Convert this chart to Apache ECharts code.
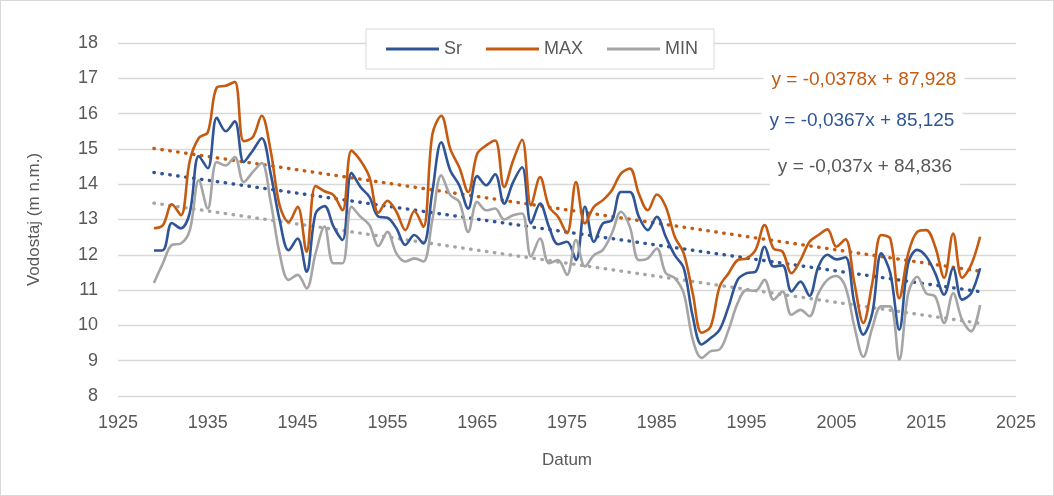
<!DOCTYPE html>
<html><head><meta charset="utf-8">
<script src="https://cdn.jsdelivr.net/npm/echarts@6/dist/echarts.min.js"></script>
<style>html,body{margin:0;padding:0;background:#fff}#c{width:1054px;height:496px;box-sizing:border-box;border:1px solid #D9D9D9}</style>
</head><body><div id="c"></div>
<script>
const years = [];
for (let y = 1929; y <= 2021; y++) years.push(y);
const sr = [12.12,12.13,12.9,12.75,13.2,14.8,14.45,15.88,15.5,15.78,14.63,14.95,15.3,14.3,12.98,12.13,12.46,11.52,13.17,13.38,12.8,12.42,14.32,13.92,13.64,13.08,13.05,12.75,12.28,12.56,12.32,13.78,
15.19,14.39,13.97,13.31,14.23,13.97,14.28,13.45,14.06,14.48,12.89,13.45,12.79,12.3,12.37,11.85,13.36,12.37,12.89,12.98,13.78,13.78,13.08,12.7,13.08,12.51,11.99,11.62,10.26,9.46,9.64,9.88,10.54,11.29,
11.48,11.52,12.23,11.67,11.7,10.96,11.24,10.84,11.67,12.0,11.87,11.93,10.63,9.74,10.35,12.04,11.48,9.88,11.76,12.14,11.95,11.48,10.87,11.62,10.73,10.91,11.62];
const mx = [12.75,12.84,13.43,13.12,14.67,15.31,15.47,16.74,16.79,16.9,15.22,15.33,15.94,14.95,13.4,12.93,13.36,12.09,13.95,13.8,13.69,13.26,14.95,14.67,14.2,13.19,13.53,13.22,12.7,13.24,12.79,15.4,
15.94,15.0,14.48,13.78,14.86,15.1,15.24,13.92,14.67,15.26,13.4,14.2,13.36,13.08,12.61,14.06,12.89,13.36,13.55,13.83,14.3,14.44,13.73,13.26,13.71,13.36,12.51,12.04,10.91,9.79,9.97,11.1,11.48,11.85,
11.9,12.14,12.84,12.18,12.09,11.48,11.85,12.37,12.56,12.72,12.23,12.44,11.2,10.07,11.2,12.56,12.46,10.77,12.04,12.65,12.7,12.23,11.35,12.6,11.35,11.71,12.51];
const mn = [11.2,11.76,12.28,12.32,12.7,14.11,13.31,14.63,14.53,14.77,14.06,14.34,14.6,13.5,12.04,11.29,11.43,11.05,12.04,12.8,11.76,11.76,13.36,13.08,12.84,12.25,12.65,12.04,11.81,11.9,11.81,12.98,
14.25,13.69,13.5,12.65,13.5,13.26,13.31,13.0,13.12,13.17,11.95,12.46,11.76,11.85,11.43,12.42,11.67,11.99,12.14,12.61,13.22,12.79,11.85,11.9,12.18,11.48,11.34,10.91,9.6,9.08,9.27,9.32,9.88,10.63,
11.0,10.98,11.29,10.73,10.96,10.3,10.44,10.26,10.91,11.29,11.4,11.1,9.97,9.11,9.93,10.54,10.54,9.03,10.91,11.38,10.91,10.82,10.07,10.91,10.16,9.83,10.58];
const seriesNames = ['Sr','MAX','MIN'];
const colors = ['#2F5597','#C55A11','#A5A5A5'];
const slopes = [-0.0367,-0.0378,-0.037];
const intercepts = [85.125,87.928,84.836];
const eqLabels = ['y = -0,0367x + 85,125','y = -0,0378x + 87,928','y = -0,037x + 84,836'];
const eqColors = ['#2F5597','#C55A11','#595959'];
const xTicks = {min:1925,max:2025,interval:10};
const yTicks = {min:8,max:18,interval:1};

const values = [sr,mx,mn];
const font = "'Liberation Sans',Arial,sans-serif";
const series = [];
values.forEach((v,i)=>{
  series.push({name:seriesNames[i],type:'line',smooth:0.35,showSymbol:false,
    data:years.map((y,k)=>[y,v[k]]),lineStyle:{width:2.6,color:colors[i]},itemStyle:{color:colors[i]},z:3});
});
values.forEach((v,i)=>{
  const x0=years[0], x1=years[years.length-1];
  series.push({name:'trend'+i,type:'line',showSymbol:false,silent:true,
    data:[[x0,slopes[i]*x0+intercepts[i]],[x1,slopes[i]*x1+intercepts[i]]],
    lineStyle:{width:3.4,color:colors[i],type:[0.5,7.5],cap:'round'},z:2});
});
const chart = echarts.init(document.getElementById('c'),null,{renderer:'canvas'});
chart.setOption({
  animation:false,
  textStyle:{fontFamily:font},
  grid:{left:117,right:37,top:42,bottom:99},
  legend:{data:seriesNames,top:28,left:365,width:347,height:42,padding:[11,16,11,20],itemGap:24,
    backgroundColor:'#fff',borderColor:'#D9D9D9',borderWidth:1,
    icon:'rect',itemWidth:53,itemHeight:3,
    textStyle:{color:'#595959',fontSize:18,fontFamily:font}},
  xAxis:{type:'value',min:xTicks.min,max:xTicks.max,interval:xTicks.interval,
    name:'Datum',nameLocation:'middle',nameGap:56,nameTextStyle:{color:'#595959',fontSize:17,fontFamily:font},
    axisLine:{show:false},axisTick:{show:false},splitLine:{show:false},
    axisLabel:{color:'#595959',fontSize:18,margin:18,fontFamily:font,formatter:v=>String(v)}},
  yAxis:{type:'value',min:yTicks.min,max:yTicks.max,interval:yTicks.interval,
    name:'Vodostaj (m n.m.)',nameLocation:'middle',nameGap:75,nameRotate:90,nameTextStyle:{color:'#595959',fontSize:17,fontFamily:font},
    axisLine:{show:false},axisTick:{show:false},
    splitLine:{lineStyle:{color:'#D9D9D9',width:1.3}},
    axisLabel:{color:'#595959',fontSize:18,margin:20,fontFamily:font}},
  graphic:[
    {type:'text',x:863,y:79,z:10,style:{text:eqLabels[1],fill:eqColors[1],font:"19px "+font,align:'center',verticalAlign:'middle',backgroundColor:'#fff',padding:[3,8]}},
    {type:'text',x:861,y:120,z:10,style:{text:eqLabels[0],fill:eqColors[0],font:"19px "+font,align:'center',verticalAlign:'middle',backgroundColor:'#fff',padding:[3,8]}},
    {type:'text',x:864,y:166,z:10,style:{text:eqLabels[2],fill:eqColors[2],font:"19px "+font,align:'center',verticalAlign:'middle',backgroundColor:'#fff',padding:[13,8]}}
  ],
  series:series
});
</script></body></html>
